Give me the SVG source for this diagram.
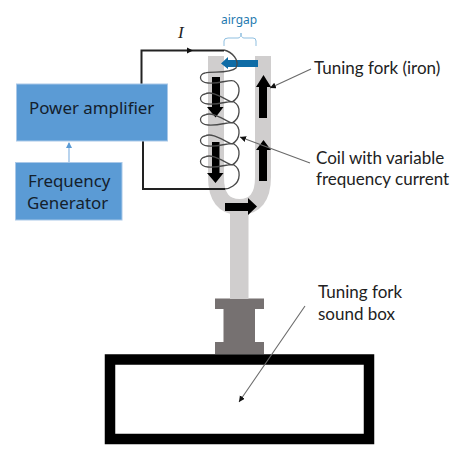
<svg xmlns="http://www.w3.org/2000/svg" width="466" height="452" viewBox="0 0 466 452">
<style>
.t{font-family:"Noto Sans","Open Sans",sans-serif;font-size:16.9px;fill:#14202c}
.l{font-family:Lato,"Open Sans",sans-serif;font-size:17px;fill:#222}
.box{fill:#5b9bd5;stroke:#a9c8e8;stroke-width:1}
.lead{fill:none;stroke:#6a6a6a;stroke-width:1.1}
.wire{fill:none;stroke:#222;stroke-width:2}
.coil{fill:none;stroke:#4a4a4a;stroke-width:1.3}
</style>
<defs>
<marker id="sm" markerWidth="7" markerHeight="7" refX="6" refY="3" orient="auto" markerUnits="userSpaceOnUse"><path d="M0 0L6 3L0 6Z" fill="#111"/></marker>
<marker id="bl" markerWidth="7" markerHeight="7" refX="5" refY="3" orient="auto" markerUnits="userSpaceOnUse"><path d="M0 0L6 3L0 6Z" fill="#5b9bd5"/></marker>
</defs>
<g id="base"><rect x="110" y="359.500" width="259" height="79.500" fill="#fff" stroke="#000" stroke-width="10.500"/></g>
<g id="mount"><path d="M215 298.500H264V309H255V342H264V354H215V342H223.500V309H215Z" fill="#767171"/></g>
<g id="fork">
<path d="M216 56V177Q216 207 239.500 207Q263 207 263 177V56" fill="none" stroke="#d0cece" stroke-width="16"/>
<rect x="230" y="212" width="18.500" height="87" fill="#d0cece"/>
</g>
<g id="flux-arrows" fill="#000">
<path d="M212 77H220V107H223.500L215.500 117.500L207 107H212Z"/>
<path d="M212 142H219.500V173H223.500L215.500 183L207 173H212Z"/>
<path d="M259 118V87H256L263.500 75L271 87H267V118Z"/>
<path d="M259 181V150H256L263.500 140L271 150H267V181Z"/>
<path d="M225 203H248V198L257 206.500L248 215V211H225Z"/>
<path d="M258 60H228V57L221 63.500L228 69V67H258Z" fill="#0f6ca6"/>
</g>
<g id="coil">
<path class="coil" d="M224 50C232 52 240 60 236 68C230 74 212 71 205 73C199 74 198 82 208 83C220 84 230 79 234 81C241 85 241 97 232 102C224 99 212 90 205 94C199 95 198 103 208 104C220 105 230 100 234 102C241 106 241 118 232 123C224 120 212 111 205 115C199 116 198 124 208 125C220 126 230 121 234 123C241 127 241 139 232 144C224 141 212 132 205 136C199 137 198 145 208 146C220 147 230 142 234 144C241 148 241 160 232 165C224 162 212 153 205 157C199 158 198 166 208 167C220 168 230 163 234 165C241 169 241 181 233 186Q229 189 224 189"/>
</g>
<g id="connectors">
<path class="wire" d="M141.500 84V50.500H224"/>
<path d="M187 47.500L193 50.500L187 53.500Z" fill="#111"/>
<path class="wire" d="M143 141V189H225"/>
<line x1="69" y1="162" x2="69" y2="143" stroke="#7fb0e0" stroke-width="1.100" marker-end="url(#bl)"/>
<path d="M224 46V41Q224 38 228 38H238Q241 38 241 33Q241 38 244 38H253Q256 38 256 41V46" fill="none" stroke="#8fbfe0" stroke-width="1"/>
<line x1="311" y1="69" x2="270" y2="88" class="lead" marker-end="url(#sm)"/>
<line x1="310" y1="163" x2="240" y2="137" class="lead" marker-end="url(#sm)"/>
<line x1="305" y1="306" x2="239" y2="402" class="lead" marker-end="url(#sm)"/>
</g>
<g id="power-amplifier"><rect class="box" x="16.500" y="84" width="151" height="57"/><text class="t" x="29" y="114">Power amplifier</text></g>
<g id="frequency-generator"><rect class="box" x="15.500" y="162.500" width="106.500" height="57.500"/><text class="t" x="28" y="187">Frequency</text><text class="t" x="27" y="209">Generator</text></g>
<g id="labels">
<text x="178" y="38" font-family="Liberation Serif,serif" font-style="italic" font-size="17" fill="#222">I</text>
<text x="221" y="24" font-family="Noto Sans,sans-serif" font-size="12" fill="#1f7ab0">airgap</text>
<text class="l" x="314" y="74">Tuning fork (iron)</text>
<text class="l" x="316" y="164">Coil with variable</text>
<text class="l" x="316" y="185">frequency current</text>
<text class="l" x="318" y="298">Tuning fork</text>
<text class="l" x="318" y="320">sound box</text>
</g>
</svg>
